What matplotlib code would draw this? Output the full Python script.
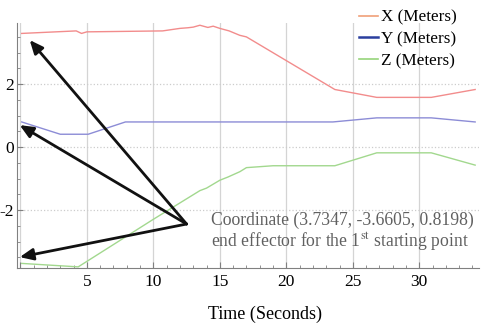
import matplotlib
matplotlib.use("Agg")
import matplotlib.pyplot as plt
from matplotlib.lines import Line2D
from matplotlib.ticker import MultipleLocator

plt.rcParams["font.family"] = ["Liberation Serif", "DejaVu Serif"]
plt.rcParams["mathtext.fontset"] = "stix"

# data
t_x = [0.1, 4.2, 4.6, 5.0, 10.7, 12.0, 12.6, 13.0, 13.5, 14.1, 14.5, 15.0, 15.7, 16.5, 17.0, 23.65, 26.8, 30.9, 34.2]
x_m = [3.61, 3.69, 3.61, 3.66, 3.69, 3.77, 3.79, 3.81, 3.87, 3.80, 3.84, 3.77, 3.69, 3.55, 3.50, 1.83, 1.58, 1.58, 1.83]

t_y = [0.1, 3.0, 5.1, 7.9, 23.5, 26.8, 30.9, 34.2]
y_m = [0.80, 0.41, 0.41, 0.80, 0.80, 0.93, 0.93, 0.80]

t_z = [0.1, 4.35, 10.0, 13.5, 14.0, 15.0, 15.6, 16.5, 17.0, 19.0, 23.65, 26.8, 30.9, 34.2]
z_m = [-3.69, -3.80, -2.29, -1.38, -1.30, -1.05, -0.95, -0.78, -0.65, -0.59, -0.59, -0.18, -0.18, -0.57]

labels = ["X (Meters)", "Y (Meters)", "Z (Meters)"]
x_ticks = [0, 5, 10, 15, 20, 25, 30]
x_tick_labels = ["", "5", "10", "15", "20", "25", "30"]
y_ticks = [-2, 0, 2]

note = "Coordinate (3.7347, -3.6605, 0.8198)\nend effector for the 1$^{\\mathrm{st}}$ starting point"
arrow_tail = (12.5, -2.44)
arrow_tips = [(0.7, 3.40), (-0.05, 0.70), (-0.05, -3.49)]

fig = plt.figure(figsize=(4.83, 3.29), dpi=100)
ax = fig.add_axes([0.035, 0.185, 0.957, 0.745])

ax.plot(t_x, x_m, color="#f28c8c", lw=1)
ax.plot(t_y, y_m, color="#8c8cd6", lw=1)
ax.plot(t_z, z_m, color="#a2d88e", lw=1)

ax.set_xlim(-0.26, 34.5)
ax.set_ylim(-3.84, 3.94)
ax.set_xticks(x_ticks)
ax.set_xticklabels(x_tick_labels)
ax.set_yticks(y_ticks)
ax.set_yticklabels([str(v) for v in y_ticks])
ax.xaxis.set_minor_locator(MultipleLocator(1))
ax.yaxis.set_minor_locator(MultipleLocator(0.5))
ax.tick_params(axis="x", direction="in", labelsize=12.5, colors="#808080", labelcolor="black", length=4, pad=4)
ax.tick_params(axis="y", direction="in", labelsize=12.5, colors="#808080", labelcolor="black", length=4, pad=2)
ax.tick_params(which="minor", direction="in", length=2.5, colors="#808080")

ax.grid(axis="x", color="#d4d4d4", lw=0.9, ls="-")
ax.grid(axis="y", color="#cccccc", lw=0.9, ls=":")
for s in ["top", "right"]:
    ax.spines[s].set_visible(False)
for s in ["left", "bottom"]:
    ax.spines[s].set_color("#808080")

ax.set_xlabel("Time (Seconds)", fontsize=13, labelpad=12)
ax.xaxis.set_label_coords((265 - 17) / 462, -0.155)

handles = [Line2D([], [], color="#f0a078", lw=1.2),
           Line2D([], [], color="#2a3f9e", lw=1.8),
           Line2D([], [], color="#96d47a", lw=1.2)]
fig.legend(handles, labels, loc="upper left", bbox_to_anchor=(352 / 483, 1 - 3 / 329),
           frameon=False, fontsize=12.3, handlelength=1.1, handletextpad=0.2,
           labelspacing=0.33, borderaxespad=0)

ax.text(14.3, -2.70, note, fontsize=12.7, color="#606060", va="center", ha="left", linespacing=1.1)

for tip in arrow_tips:
    ax.annotate("", xy=tip, xytext=arrow_tail,
                arrowprops=dict(arrowstyle="-|>,head_length=0.8,head_width=0.35",
                                color="#111111", lw=2, shrinkA=0, shrinkB=0))

fig.savefig("out.png", dpi=100)
